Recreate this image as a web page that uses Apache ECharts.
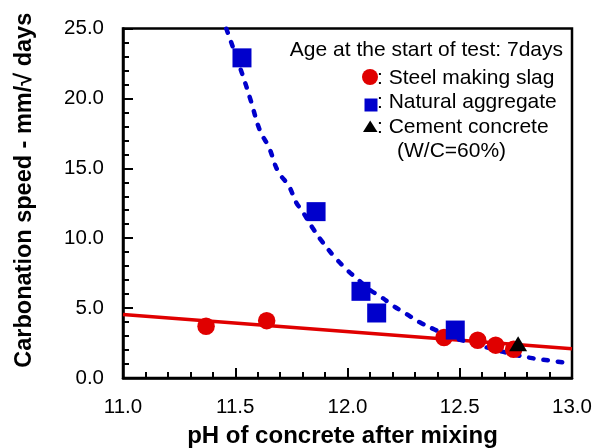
<!DOCTYPE html>
<html>
<head>
<meta charset="utf-8">
<script src="https://cdn.jsdelivr.net/npm/echarts@6/dist/echarts.min.js"></script>
<style>
  html, body { margin: 0; padding: 0; background: #ffffff; }
  #chart { width: 593px; height: 448px; }
</style>
</head>
<body>
<div id="chart"></div>
<script>
// Steel making slag concrete: pH vs carbonation speed
const slagPH = [11.37, 11.64, 12.43, 12.58, 12.66, 12.74];
const slagSpeed = [3.7, 4.1, 2.9, 2.7, 2.35, 2.05];

// Natural aggregate concrete
const naturalPH = [11.53, 11.86, 12.06, 12.13, 12.48];
const naturalSpeed = [22.9, 11.9, 6.2, 4.65, 3.43];

// Cement concrete (W/C=60%)
const cementPH = [12.76];
const cementSpeed = [2.45];

// Trend line for slag concrete
const slagTrendPH = [11.0, 13.0];
const slagTrendSpeed = [4.55, 2.1];

// Trend curve for natural aggregate concrete
const naturalTrendPH = [11.46, 11.53, 11.57, 11.61, 11.65, 11.69, 11.74, 11.77, 11.80, 11.85,
                        11.89, 11.94, 12.00, 12.05, 12.10, 12.15, 12.20, 12.26, 12.32, 12.39,
                        12.46, 12.53, 12.64, 12.75, 12.83, 12.90, 12.97, 13.00];
const naturalTrendSpeed = [25.0, 21.8, 19.8, 17.7, 16.5, 14.8, 13.7, 12.6, 11.9, 10.6,
                           9.7, 8.7, 7.7, 7.0, 6.3, 5.8, 5.2, 4.6, 4.0, 3.45,
                           2.95, 2.6, 2.1, 1.65, 1.4, 1.25, 1.1, 1.05];

const xTicks = [11.0, 11.5, 12.0, 12.5, 13.0];
const yTicks = [0, 5, 10, 15, 20, 25];

const legendHeader = 'Age at the start of test: 7days';
const legendRows = [': Steel making slag', ': Natural aggregate', ': Cement concrete', '(W/C=60%)'];

const RED = '#e00000';
const BLUE = '#0000cc';
const FONT = '"Liberation Sans", Arial, sans-serif';
const LEGEND_FONT = '21px ' + FONT;

const zip = (xs, ys) => xs.map((x, i) => [x, ys[i]]);

const chart = echarts.init(document.getElementById('chart'), null, { renderer: 'canvas' });

const axisCommon = {
  axisLine: { show: true, onZero: false, lineStyle: { color: '#000', width: 2.5 } },
  axisTick: { show: true, inside: true, length: 10, lineStyle: { color: '#000', width: 2 } },
  minorTick: { show: true, splitNumber: 5, length: 6, lineStyle: { color: '#000', width: 2 } },
  splitLine: { show: false },
  minorSplitLine: { show: false }
};

chart.setOption({
  animation: false,
  backgroundColor: '#ffffff',
  textStyle: { fontFamily: FONT },
  grid: {
    left: 123, right: 21, top: 28.5, bottom: 70,
    containLabel: false, outerBoundsMode: 'none',
    show: true, borderColor: '#000', borderWidth: 2.5, backgroundColor: 'transparent'
  },
  xAxis: Object.assign({}, axisCommon, {
    type: 'value',
    min: xTicks[0], max: xTicks[xTicks.length - 1], interval: 0.5,
    name: 'pH of concrete after mixing',
    nameLocation: 'middle', nameGap: 46,
    nameTextStyle: { fontFamily: FONT, fontSize: 24, fontWeight: 'bold', color: '#000', padding: [0, 10, 0, 0] },
    axisLabel: {
      margin: 19, fontSize: 20.5, color: '#000', fontFamily: FONT,
      formatter: v => v.toFixed(1)
    }
  }),
  yAxis: Object.assign({}, axisCommon, {
    type: 'value',
    min: yTicks[0], max: yTicks[yTicks.length - 1], interval: 5,
    name: 'Carbonation speed - mm/\u221A days',
    nameLocation: 'middle', nameGap: 86,
    nameTextStyle: { fontFamily: FONT, fontSize: 23.5, fontWeight: 'bold', color: '#000', padding: [0, 0, 0, 26] },
    axisLabel: {
      margin: 19, fontSize: 20.5, color: '#000', fontFamily: FONT,
      formatter: v => v.toFixed(1)
    }
  }),
  series: [
    {
      name: 'Slag trend', type: 'line', data: zip(slagTrendPH, slagTrendSpeed),
      showSymbol: false, symbol: 'none', z: 2,
      lineStyle: { color: RED, width: 3.5 }
    },
    {
      name: 'Natural trend', type: 'line', data: zip(naturalTrendPH, naturalTrendSpeed),
      showSymbol: false, symbol: 'none', smooth: 0.4, z: 3, clip: true,
      lineStyle: { color: BLUE, width: 4.5, type: [4.5, 10], cap: 'round' }
    },
    {
      name: 'Steel making slag', type: 'scatter', data: zip(slagPH, slagSpeed),
      symbol: 'circle', symbolSize: 17.5, z: 4,
      itemStyle: { color: RED, opacity: 1 }
    },
    {
      name: 'Natural aggregate', type: 'scatter', data: zip(naturalPH, naturalSpeed),
      symbol: 'rect', symbolSize: 19, z: 5,
      itemStyle: { color: BLUE, opacity: 1 }
    },
    {
      name: 'Cement concrete', type: 'scatter', data: zip(cementPH, cementSpeed),
      symbol: 'triangle', symbolSize: [18, 15], z: 6,
      itemStyle: { color: '#000', opacity: 1 }
    }
  ],
  graphic: [
    { type: 'text', x: 563, y: 50, z: 10,
      style: { text: legendHeader, fill: '#000', font: LEGEND_FONT, textAlign: 'right', textVerticalAlign: 'middle' } },
    { type: 'circle', shape: { cx: 370, cy: 77, r: 8 }, style: { fill: RED }, z: 10 },
    { type: 'text', x: 377, y: 78, z: 10,
      style: { text: legendRows[0], fill: '#000', font: LEGEND_FONT, textAlign: 'left', textVerticalAlign: 'middle' } },
    { type: 'rect', shape: { x: 364.5, y: 98.5, width: 13, height: 13 }, style: { fill: BLUE }, z: 10 },
    { type: 'text', x: 377, y: 102, z: 10,
      style: { text: legendRows[1], fill: '#000', font: LEGEND_FONT, textAlign: 'left', textVerticalAlign: 'middle' } },
    { type: 'polygon', shape: { points: [[363, 132], [377.5, 132], [370.2, 120.5]] }, style: { fill: '#000' }, z: 10 },
    { type: 'text', x: 377, y: 127, z: 10,
      style: { text: legendRows[2], fill: '#000', font: LEGEND_FONT, textAlign: 'left', textVerticalAlign: 'middle' } },
    { type: 'text', x: 397, y: 151, z: 10,
      style: { text: legendRows[3], fill: '#000', font: LEGEND_FONT, textAlign: 'left', textVerticalAlign: 'middle' } }
  ]
});
</script>
</body>
</html>
